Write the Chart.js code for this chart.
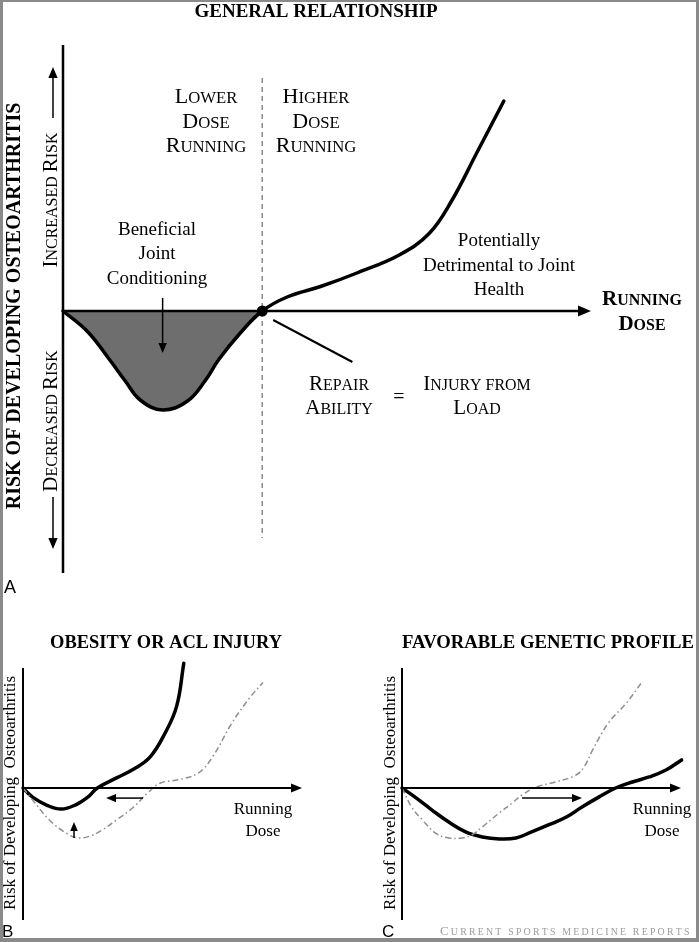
<!DOCTYPE html>
<html>
<head>
<meta charset="utf-8">
<script src="https://cdn.jsdelivr.net/npm/chart.js@4.4.1/dist/chart.umd.min.js"></script>
<style>
html, body { margin: 0; padding: 0; background: #fff; }
#page { position: relative; width: 699px; height: 942px; overflow: hidden; background: #fff; }
#page canvas { position: absolute; }
#frame {
    position: absolute; left: 0; top: 0; width: 699px; height: 942px;
    box-sizing: border-box; border-style: solid; border-color: #8a8a8a;
    border-width: 2px 3px 4px 3px; pointer-events: none;
}
</style>
</head>
<body>
<div id="page">
    <canvas id="chartA" width="699" height="600" style="left:0;top:0"></canvas>
    <canvas id="chartB" width="349" height="342" style="left:0;top:600px"></canvas>
    <canvas id="chartC" width="350" height="342" style="left:349px;top:600px"></canvas>
    <div id="frame"></div>
</div>
<script>
// A - general relationship (dose vs risk, 0 = no change in risk)
var doseA = [0, 0.5, 0.94, 1.25, 1.55, 2.0, 2.5, 2.85, 3.12, 3.55, 4.0, 4.5, 5.2, 5.9, 6.75, 7.35, 7.8, 8.3, 8.85];
var riskA = [0, -0.42, -0.98, -1.4, -1.78, -1.98, -1.8, -1.4, -0.98, -0.45, 0, 0.28, 0.5, 0.76, 1.12, 1.55, 2.2, 3.15, 4.2];
var thresholdA = 4;          // repair ability = injury from load
var xRangeA = [0, 10.6];
var yRangeA = [-5.24, 5.32];

// B - obesity or ACL injury
var doseB = [0, 0.4, 1.0, 1.6, 2.2, 2.7, 3.1, 3.9, 4.6, 5.3, 5.9, 6.4, 6.7];
var riskB = [0, -0.38, -0.72, -0.88, -0.7, -0.38, 0, 0.42, 0.78, 1.3, 2.25, 3.4, 5.2];
var doseRefB = [0, 0.4, 1.1, 1.8, 2.3, 2.8, 3.3, 3.9, 4.6, 5.2, 5.7, 6.5, 7.3, 7.9, 8.7, 9.4, 10.0];
var riskRefB = [0, -0.5, -1.33, -1.88, -2.08, -2.0, -1.75, -1.33, -0.8, -0.2, 0.2, 0.35, 0.62, 1.3, 2.7, 3.7, 4.4];

// C - favorable genetic profile
var doseC = [0, 0.6, 1.25, 1.95, 2.65, 3.35, 4.05, 4.75, 5.4, 6.1, 6.85, 7.5, 8.2, 8.9, 9.6, 10.3, 11.0, 11.65];
var riskC = [0, -0.42, -0.92, -1.42, -1.83, -2.04, -2.12, -2.08, -1.83, -1.54, -1.21, -0.79, -0.38, 0, 0.25, 0.46, 0.75, 1.17];
var doseRefC = [0, 0.4, 0.85, 1.4, 1.95, 2.5, 2.9, 3.35, 4.05, 4.6, 5.0, 5.6, 6.4, 7.25, 7.6, 7.95, 8.6, 9.35, 10.0];
var riskRefC = [0, -0.79, -1.33, -1.88, -2.08, -2.08, -1.96, -1.62, -1.04, -0.62, -0.29, 0.04, 0.25, 0.54, 0.9, 1.6, 2.71, 3.54, 4.42];

var xRangeSmall = [0, 11.625];
var yRangeSmall = [-5.5, 5];

var SERIF = "'Liberation Serif', 'Times New Roman', serif";
var SANS = "'Liberation Sans', Arial, sans-serif";

function pts(xs, ys) {
    return xs.map(function (x, i) { return {x: x, y: ys[i]}; });
}

// flecha con punta rellena
function arrow(ctx, x1, y1, x2, y2, head, lw) {
    var a = Math.atan2(y2 - y1, x2 - x1);
    var c = Math.cos(a), s = Math.sin(a);
    ctx.save();
    ctx.lineWidth = lw;
    ctx.strokeStyle = "#000";
    ctx.fillStyle = "#000";
    ctx.beginPath();
    ctx.moveTo(x1, y1);
    ctx.lineTo(x2 - c * head * 0.7, y2 - s * head * 0.7);
    ctx.stroke();
    ctx.beginPath();
    ctx.moveTo(x2, y2);
    ctx.lineTo(x2 - head * c + head * 0.42 * s, y2 - head * s - head * 0.42 * c);
    ctx.lineTo(x2 - head * c - head * 0.42 * s, y2 - head * s + head * 0.42 * c);
    ctx.closePath();
    ctx.fill();
    ctx.restore();
}

// versalitas: mayusculas grandes, minusculas como mayusculas pequeñas
function smallCaps(ctx, str, x, y, size, bold, align, spacing) {
    var small = size * 0.76;
    var w = bold ? "bold " : "";
    var sp = spacing || 0;
    var parts = [];
    var total = 0;
    var i;
    for (i = 0; i < str.length; i += 1) {
        var ch = str[i];
        var big = ch !== ch.toLowerCase();
        var s = big ? size : small;
        ctx.font = w + s + "px " + SERIF;
        var cw = ctx.measureText(ch.toUpperCase()).width + sp;
        parts.push([ch.toUpperCase(), s, cw]);
        total += cw;
    }
    total -= sp;
    var start = x;
    if (align === "center") { start = x - total / 2; }
    if (align === "right") { start = x - total; }
    ctx.textAlign = "left";
    ctx.textBaseline = "alphabetic";
    parts.forEach(function (p) {
        ctx.font = w + p[1] + "px " + SERIF;
        ctx.fillText(p[0], start, y);
        start += p[2];
    });
}

function text(ctx, str, x, y, font, align, maxW) {
    ctx.font = font;
    ctx.textAlign = align || "center";
    ctx.textBaseline = "alphabetic";
    if (maxW) {
        ctx.fillText(str, x, y, maxW);
    } else {
        ctx.fillText(str, x, y);
    }
}

function rotated(ctx, x, y, fn) {
    ctx.save();
    ctx.translate(x, y);
    ctx.rotate(-Math.PI / 2);
    fn();
    ctx.restore();
}

function drawAxes(chart, lw, head) {
    var ctx = chart.ctx, xs = chart.scales.x, ys = chart.scales.y;
    var x0 = xs.getPixelForValue(0), y0 = ys.getPixelForValue(0);
    ctx.save();
    ctx.strokeStyle = "#000";
    ctx.lineWidth = lw;
    ctx.beginPath();
    ctx.moveTo(x0, ys.top);
    ctx.lineTo(x0, ys.bottom);
    ctx.stroke();
    ctx.restore();
    arrow(ctx, x0, y0, xs.right, y0, head, lw);
}

var notesA = {
    id: "notesA",
    afterDatasetsDraw: function (chart) {
        var ctx = chart.ctx, xs = chart.scales.x, ys = chart.scales.y;
        drawAxes(chart, 2.5, 13);
        var xt = xs.getPixelForValue(thresholdA);
        var y0 = ys.getPixelForValue(0);

        // linea discontinua del umbral
        ctx.save();
        ctx.strokeStyle = "#8a8a8a";
        ctx.lineWidth = 1.5;
        ctx.setLineDash([5, 4]);
        ctx.beginPath();
        ctx.moveTo(xt, ys.getPixelForValue(4.66));
        ctx.lineTo(xt, ys.getPixelForValue(-4.54));
        ctx.stroke();
        ctx.restore();

        ctx.fillStyle = "#000";
        ctx.beginPath();
        ctx.arc(xt, y0, 5.5, 0, Math.PI * 2);
        ctx.fill();

        // linea guia hacia "repair ability = injury from load"
        ctx.save();
        ctx.strokeStyle = "#000";
        ctx.lineWidth = 2;
        ctx.beginPath();
        ctx.moveTo(xs.getPixelForValue(4.22), ys.getPixelForValue(-0.18));
        ctx.lineTo(xs.getPixelForValue(5.81), ys.getPixelForValue(-1.02));
        ctx.stroke();
        ctx.restore();

        arrow(ctx, xs.getPixelForValue(2.0), ys.getPixelForValue(0.26),
            xs.getPixelForValue(2.0), ys.getPixelForValue(-0.84), 10, 1.5);

        ctx.fillStyle = "#000";
        text(ctx, "GENERAL RELATIONSHIP", 316, 17, "bold 19px " + SERIF, "center", 263);

        smallCaps(ctx, "Lower", 206, 103, 22, false, "center");
        smallCaps(ctx, "Dose", 206, 128, 22, false, "center");
        smallCaps(ctx, "Running", 206, 152, 22, false, "center");
        smallCaps(ctx, "Higher", 316, 103, 22, false, "center");
        smallCaps(ctx, "Dose", 316, 128, 22, false, "center");
        smallCaps(ctx, "Running", 316, 152, 22, false, "center");

        text(ctx, "Beneficial", 157, 235, "19px " + SERIF);
        text(ctx, "Joint", 157, 259, "19px " + SERIF);
        text(ctx, "Conditioning", 157, 284, "19px " + SERIF);

        text(ctx, "Potentially", 499, 246, "19px " + SERIF);
        text(ctx, "Detrimental to Joint", 499, 271, "19px " + SERIF);
        text(ctx, "Health", 499, 295, "19px " + SERIF);

        smallCaps(ctx, "Running", 642, 305, 21, true, "center");
        smallCaps(ctx, "Dose", 642, 330, 21, true, "center");

        smallCaps(ctx, "Repair", 339, 390, 21, false, "center");
        smallCaps(ctx, "Ability", 339, 414, 21, false, "center");
        text(ctx, "=", 399, 403, "20px " + SERIF);
        smallCaps(ctx, "Injury from", 477, 390, 21, false, "center");
        smallCaps(ctx, "Load", 477, 414, 21, false, "center");

        rotated(ctx, 20, 306, function () {
            text(ctx, "RISK OF DEVELOPING OSTEOARTHRITIS", 0, 0, "bold 20px " + SERIF, "center", 422);
        });
        rotated(ctx, 57, 200, function () {
            smallCaps(ctx, "Increased Risk", 0, 0, 21, false, "center");
        });
        rotated(ctx, 57, 421, function () {
            smallCaps(ctx, "Decreased Risk", 0, 0, 21, false, "center");
        });
        arrow(ctx, 53, 118, 53, 67, 11, 1.5);
        arrow(ctx, 53, 497, 53, 549, 11, 1.5);

        text(ctx, "A", 4, 593, "18px " + SANS, "left");
    }
};

function smallNotes(id, title, titleX, titleW, labelX, doseX, letterX, extra) {
    return {
        id: id,
        afterDatasetsDraw: function (chart) {
            var ctx = chart.ctx;
            drawAxes(chart, 2, 11);
            ctx.fillStyle = "#000";
            text(ctx, title, titleX, 48, "bold 19px " + SERIF, "center", titleW);
            rotated(ctx, labelX, 193, function () {
                text(ctx, "Risk of Developing  Osteoarthritis", 0, 0, "17px " + SERIF, "center", 243);
            });
            text(ctx, "Running", doseX, 214, "17px " + SERIF);
            text(ctx, "Dose", doseX, 236, "17px " + SERIF);
            text(ctx, letterX[0], letterX[1], 337, "17px " + SANS, "left");
            extra(chart, ctx);
        }
    };
}

function makeChart(id, datasets, xr, yr, pad, plugin) {
    return new Chart(document.getElementById(id), {
        type: "line",
        data: {datasets: datasets},
        options: {
            responsive: false,
            animation: false,
            devicePixelRatio: 1,
            layout: {padding: pad},
            elements: {point: {radius: 0}, line: {tension: 0.4}},
            plugins: {legend: {display: false}, tooltip: {enabled: false}},
            scales: {
                x: {type: "linear", min: xr[0], max: xr[1], display: false},
                y: {type: "linear", min: yr[0], max: yr[1], display: false}
            }
        },
        plugins: [plugin]
    });
}

function refLine(xs, ys) {
    return {
        data: pts(xs, ys),
        borderColor: "#8f8f8f",
        borderWidth: 1.5,
        borderDash: [6, 3, 1.5, 3],
        fill: false,
        clip: false
    };
}

function mainLine(xs, ys) {
    return {
        data: pts(xs, ys),
        borderColor: "#000",
        borderWidth: 3.5,
        borderCapStyle: "round",
        fill: false,
        clip: false
    };
}

var datasetA = mainLine(doseA, riskA);
datasetA.fill = {target: "origin", above: "rgba(0,0,0,0)", below: "#6e6e6e"};

makeChart("chartA", [datasetA], xRangeA, yRangeA,
    {left: 63, right: 108, top: 45, bottom: 27}, notesA);

makeChart("chartB", [refLine(doseRefB, riskRefB), mainLine(doseB, riskB)], xRangeSmall, yRangeSmall,
    {left: 23, right: 47, top: 68, bottom: 22},
    smallNotes("notesB", "OBESITY OR ACL INJURY", 166, 232, 15, 263, ["B", 2], function (chart, ctx) {
        var xs = chart.scales.x, ys = chart.scales.y;
        arrow(ctx, xs.getPixelForValue(5.0), ys.getPixelForValue(-0.42),
            xs.getPixelForValue(3.46), ys.getPixelForValue(-0.42), 10, 1.5);
        arrow(ctx, xs.getPixelForValue(2.125), ys.getPixelForValue(-2.08),
            xs.getPixelForValue(2.125), ys.getPixelForValue(-1.42), 9, 1.5);
    }));

makeChart("chartC", [refLine(doseRefC, riskRefC), mainLine(doseC, riskC)], xRangeSmall, yRangeSmall,
    {left: 53, right: 18, top: 68, bottom: 22},
    smallNotes("notesC", "FAVORABLE GENETIC PROFILE", 199, 292, 46, 313, ["C", 33], function (chart, ctx) {
        var xs = chart.scales.x, ys = chart.scales.y;
        arrow(ctx, xs.getPixelForValue(5.0), ys.getPixelForValue(-0.42),
            xs.getPixelForValue(7.5), ys.getPixelForValue(-0.42), 10, 1.5);
        ctx.fillStyle = "#9c9c9c";
        smallCaps(ctx, "Current sports medicine reports", 91, 335, 13, false, "left", 2.2);
    }));
</script>
</body>
</html>
